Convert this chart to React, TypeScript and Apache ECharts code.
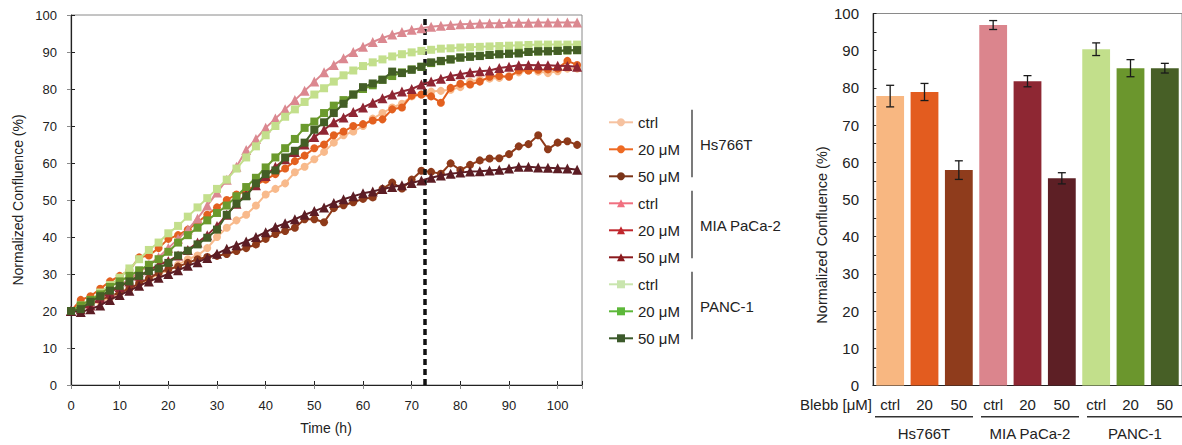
import React, { useEffect, useRef } from 'react';
import * as echarts from 'echarts';

const FONT = '"Liberation Sans", Arial, Helvetica, sans-serif';

// Time points (h)
const TIMES = [0, 2, 4, 6, 8, 10, 12, 14, 16, 18, 20, 22, 24, 26, 28, 30, 32, 34, 36, 38, 40, 42, 44, 46, 48, 50, 52, 54, 56, 58, 60, 62, 64, 66, 68, 70, 72, 74, 76, 78, 80, 82, 84, 86, 88, 90, 92, 94, 96, 98, 100, 102, 104];

const HS_CTRL = [20, 20.5, 22, 22.5, 23.5, 25, 26, 27.5, 28.5, 30, 31, 32.5, 34, 35, 37, 40, 42.5, 44.5, 46, 48.5, 51.5, 53, 54.5, 57.5, 59, 61, 63, 65.5, 67.5, 68.5, 70, 72, 73.5, 75, 76, 78, 78.5, 79.3, 79.5, 79.8, 80.5, 82, 82.5, 82.8, 83, 83.5, 84.5, 85, 84.7, 84.3, 84.8, 85.5, 85.5];
const HS_20 = [20, 23, 24, 26, 28, 29.5, 31, 34.5, 35, 37, 39.5, 40.5, 42, 44, 46, 48, 50, 51.5, 52.5, 54, 55.5, 57, 58.5, 60.5, 62, 64, 65, 67.5, 68.5, 70, 70.5, 71.5, 71.8, 74.5, 75, 78.2, 78.5, 78, 76.3, 80.3, 81.4, 81.2, 82, 83.3, 83.5, 83.3, 85, 85, 85.2, 85.3, 85.5, 87.6, 86.5];
const HS_50 = [20, 21, 22, 23, 24, 25, 26, 27.5, 28.8, 30.3, 31.3, 32, 33, 34, 34.6, 34.9, 35.4, 36.2, 37, 38, 39.5, 40.8, 41.6, 42.5, 44.8, 44.8, 44, 47.8, 48.6, 49.4, 50.3, 50.7, 53, 54.7, 53.1, 55.5, 57.9, 57.6, 57.1, 59.9, 58.1, 59.5, 60.7, 61.2, 61.3, 62.4, 64.5, 65.1, 67.5, 63.7, 65.5, 65.9, 64.9];
const MIA_CTRL = [20, 21, 22.5, 24, 25.5, 27, 28.5, 30.5, 32.5, 34.5, 37, 39.5, 42, 45, 48.5, 52, 55.5, 59, 63.5, 66.5, 69.5, 72, 74.5, 77, 79.5, 82, 84.5, 86.5, 88.3, 90, 91.4, 92.7, 93.8, 94.7, 95.4, 96, 96.4, 96.8, 97.1, 97.3, 97.5, 97.6, 97.7, 97.8, 97.8, 97.9, 97.9, 97.9, 98, 98, 98, 98, 98];
const MIA_20 = [20, 20.5, 21.5, 23.5, 25, 26.5, 28, 29.5, 31, 32.5, 33.5, 35, 36.5, 38.5, 40.5, 43, 46, 49, 51.5, 54, 56.5, 59, 61, 63, 65, 67, 69, 71, 72.3, 73.8, 75, 76.3, 77.5, 78.5, 79.3, 80, 81.2, 82, 82.8, 83.5, 84, 84.5, 84.8, 85, 85.7, 86, 86.4, 86.5, 86.4, 86.4, 86.3, 86.2, 86];
const MIA_50 = [20, 19.7, 20.5, 21.5, 23, 24.3, 25.5, 26.8, 28, 29, 30, 31, 32.2, 33.2, 34.3, 35.5, 36.8, 37.8, 38.8, 40, 41.3, 42.7, 43.7, 44.8, 46, 47, 48, 49.2, 50.2, 51, 51.8, 52.3, 53, 53.5, 54, 54.6, 55.3, 56, 56.6, 57.1, 57.4, 57.7, 57.8, 58, 58.2, 58.5, 59, 59, 58.8, 58.7, 58.6, 58.5, 58.2];
const PANC_CTRL = [20, 21.5, 23, 25, 27, 29, 31.5, 34, 36.5, 38.5, 41, 43, 45.5, 48, 50.5, 53, 55.5, 58.5, 61.5, 64.5, 67.5, 70, 72.5, 74.5, 76.5, 78.5, 80.2, 82, 83.7, 85, 86.2, 87.2, 88, 88.8, 89.4, 89.9, 90.3, 90.6, 90.9, 91, 91.2, 91.3, 91.4, 91.5, 91.6, 91.7, 91.8, 91.9, 92, 92, 92, 92, 92];
const PANC_20 = [20, 21.5, 23, 24.5, 26.5, 28, 29.5, 31, 32.5, 34, 36, 38.5, 40.5, 42.5, 44.5, 46.5, 48.5, 51, 53.5, 56, 58.8, 61.5, 64, 66.5, 69.5, 71.2, 73.5, 75.5, 77, 78.5, 80, 81, 82.5, 83.5, 84.5, 85.3, 86, 87, 87.5, 88, 88.5, 88.8, 89, 89.2, 89.4, 89.6, 89.8, 90, 90.1, 90.2, 90.3, 90.4, 90.5];
const PANC_50 = [20, 20.5, 22.5, 24, 25.5, 26.8, 28, 29.5, 30.8, 31.5, 33, 35, 36.3, 38, 39.8, 42, 46, 49, 51, 54.5, 57, 58, 61.5, 63.3, 65.5, 69, 71, 73.5, 76, 78.5, 80.5, 81.5, 82.5, 84.7, 84.3, 85.2, 86, 87.2, 87.6, 88, 88.5, 88.7, 88.9, 89.2, 89.4, 89.5, 89.6, 90, 90.2, 90.2, 90.3, 90.5, 90.5];

const TREATMENT_TIME = 72.6;

const CELL_LINES = ['Hs766T', 'MIA PaCa-2', 'PANC-1'];
const DOSES = ['ctrl', '20 μM', '50 μM'];

// Bar chart (right)
const BAR_CATS = ['ctrl', '20', '50', 'ctrl', '20', '50', 'ctrl', '20', '50'];
const BAR_MEANS = [77.8, 78.9, 57.9, 96.9, 81.8, 55.7, 90.4, 85.3, 85.3];
const BAR_ERRS = [2.9, 2.3, 2.5, 1.2, 1.5, 1.5, 1.7, 2.3, 1.3];

const LINE_COLORS = ['#F8BA8C', '#E3601F', '#8E3A1A', '#DB8890', '#8F2633', '#5C1D24', '#C3DF8C', '#6B9A2E', '#435E26'];
const LEGEND_COLORS = ['#F6C2A0', '#EE6A23', '#7B3418', '#F07080', '#C0272D', '#8B1A1E', '#C9E5AE', '#5DB83A', '#3C5A2B'];
const BAR_COLORS = ['#F8B781', '#E35C1F', '#8F3C1C', '#DB858D', '#8E2733', '#5D1F25', '#C2DF8B', '#6B962D', '#475F26'];

const SERIES_VALUES = [HS_CTRL, HS_20, HS_50, MIA_CTRL, MIA_20, MIA_50, PANC_CTRL, PANC_20, PANC_50];
const SYMBOLS = ['circle', 'triangle', 'rect'];
const SYMBOL_SIZES = [8, 10, 8];

function buildOption() {
  const names: string[] = [];
  CELL_LINES.forEach((c) => DOSES.forEach((d) => names.push(c + '|' + d)));

  const lineSeries: any[] = SERIES_VALUES.map((vals, i) => {
    const g = Math.floor(i / 3);
    return {
      type: 'line',
      name: names[i],
      xAxisIndex: 0,
      yAxisIndex: 0,
      data: TIMES.map((t, k) => [t, vals[k]]),
      symbol: SYMBOLS[g],
      symbolSize: SYMBOL_SIZES[g],
      showAllSymbol: true,
      lineStyle: { width: 2, color: LINE_COLORS[i] },
      itemStyle: { color: LINE_COLORS[i] },
      z: 2 + i,
    };
  });

  const markSeries = {
    type: 'line',
    name: 'treatment',
    xAxisIndex: 0,
    yAxisIndex: 0,
    data: [],
    z: 20,
    markLine: {
      silent: true,
      symbol: ['none', 'none'],
      label: { show: false },
      lineStyle: { color: '#111', width: 3.5, type: [6, 4] },
      data: [{ xAxis: TREATMENT_TIME }],
    },
  };

  const barSeries = {
    type: 'bar',
    xAxisIndex: 2,
    yAxisIndex: 2,
    barCategoryGap: '19%',
    data: BAR_MEANS.map((v, i) => ({ value: v, itemStyle: { color: BAR_COLORS[i] } })),
    z: 2,
  };

  const errSeries = {
    type: 'custom',
    xAxisIndex: 2,
    yAxisIndex: 2,
    z: 5,
    data: BAR_MEANS.map((m, i) => [i, m, BAR_ERRS[i]]),
    encode: { x: 0, y: 1 },
    renderItem: (params: any, api: any) => {
      const i = api.value(0);
      const m = api.value(1);
      const e = api.value(2);
      const top = api.coord([i, m + e]);
      const bot = api.coord([i, m - e]);
      const hw = 4;
      const style = { stroke: '#1a1a1a', lineWidth: 1.3 };
      return {
        type: 'group',
        children: [
          { type: 'line', shape: { x1: top[0], y1: top[1], x2: bot[0], y2: bot[1] }, style },
          { type: 'line', shape: { x1: top[0] - hw, y1: top[1], x2: top[0] + hw, y2: top[1] }, style },
          { type: 'line', shape: { x1: bot[0] - hw, y1: bot[1], x2: bot[0] + hw, y2: bot[1] }, style },
        ],
      };
    },
  };

  const dark = '#222';
  const grey = '#8a8a8a';
  const txt = { color: '#222', fontFamily: FONT };

  // Legend group brackets and labels
  const rowTop = 117.3;
  const rowStep = 27;
  const graphics: any[] = [];
  CELL_LINES.forEach((c, g) => {
    const r0 = rowTop + rowStep * (3 * g);
    const r2 = rowTop + rowStep * (3 * g + 2);
    graphics.push({
      type: 'line',
      shape: { x1: 692, y1: r0 - 7.5, x2: 692, y2: r2 + 6 },
      style: { stroke: '#333', lineWidth: 1.3 },
    });
    graphics.push({
      type: 'text',
      x: 700,
      y: rowTop + rowStep * (3 * g + 1),
      style: { text: c, fontSize: 15, fontFamily: FONT, fill: '#222', textAlign: 'left', textVerticalAlign: 'middle' },
    });
  });

  // Right chart group underlines + labels
  const groups = [
    { x1: 875, x2: 973 },
    { x1: 981, x2: 1079 },
    { x1: 1087, x2: 1186 },
  ];
  groups.forEach((gr, g) => {
    graphics.push({
      type: 'line',
      shape: { x1: gr.x1, y1: 416.7, x2: gr.x2, y2: 416.7 },
      style: { stroke: '#333', lineWidth: 1.5 },
    });
    graphics.push({
      type: 'text',
      x: g === 2 ? 1135 : (gr.x1 + gr.x2) / 2,
      y: 433,
      style: { text: CELL_LINES[g], fontSize: 15, fontFamily: FONT, fill: '#222', textAlign: 'center', textVerticalAlign: 'middle' },
    });
  });
  graphics.push({
    type: 'text',
    x: 872,
    y: 404,
    style: { text: 'Blebb [μM]', fontSize: 15, fontFamily: FONT, fill: '#222', textAlign: 'right', textVerticalAlign: 'middle' },
  });
  graphics.push({
    type: 'text',
    x: 822,
    y: 235,
    rotation: Math.PI / 2,
    style: { text: 'Normalized Confluence (%)', fontSize: 14.5, fontFamily: FONT, fill: '#222', textAlign: 'center', textVerticalAlign: 'middle' },
  });
  graphics.push({
    type: 'text',
    x: 18,
    y: 200,
    rotation: Math.PI / 2,
    style: { text: 'Normalized Confluence (%)', fontSize: 14, fontFamily: FONT, fill: '#222', textAlign: 'center', textVerticalAlign: 'middle' },
  });
  graphics.push({
    type: 'text',
    x: 326,
    y: 428,
    style: { text: 'Time (h)', fontSize: 14, fontFamily: FONT, fill: '#222', textAlign: 'center', textVerticalAlign: 'middle' },
  });

  return {
    animation: false,
    backgroundColor: '#fff',
    textStyle: { fontFamily: FONT },
    grid: [
      { left: 71, top: 15, width: 511, height: 370, show: true, borderColor: grey, borderWidth: 1, backgroundColor: 'transparent' },
      { left: 873, top: 13.5, width: 313, height: 372, show: true, borderColor: grey, borderWidth: 1, backgroundColor: 'transparent' },
    ],
    legend: {
      orient: 'vertical',
      left: 603,
      top: rowTop - 8,
      itemWidth: 24,
      itemHeight: 10,
      itemGap: 11,
      textStyle: { fontSize: 15, lineHeight: 16, color: '#222', fontFamily: FONT },
      formatter: (name: string) => name.split('|')[1],
      data: names.map((n, i) => ({
        name: n,
        itemStyle: { color: LEGEND_COLORS[i] },
        lineStyle: { color: LEGEND_COLORS[i], width: 2 },
      })),
    },
    xAxis: [
      {
        type: 'value',
        gridIndex: 0,
        min: 0,
        max: 105,
        interval: 10,
        splitLine: { show: false },
        axisLine: { show: true, lineStyle: { color: dark, width: 1.2 } },
        axisTick: { show: true, inside: true, length: 4, lineStyle: { color: dark } },
        axisLabel: { ...txt, fontSize: 13, margin: 14, formatter: (v: number) => (v % 10 === 0 ? String(v) : '') },
      },
      {
        type: 'value',
        gridIndex: 0,
        position: 'top',
        min: 0,
        max: 105,
        interval: 10,
        splitLine: { show: false },
        axisLine: { show: false },
        axisTick: { show: true, inside: true, length: 4, lineStyle: { color: grey } },
        axisLabel: { show: false },
      },
      {
        type: 'category',
        gridIndex: 1,
        data: BAR_CATS,
        axisLine: { show: true, lineStyle: { color: dark, width: 1.2 } },
        axisTick: { show: false },
        axisLabel: { ...txt, fontSize: 15, margin: 11, interval: 0 },
      },
    ],
    yAxis: [
      {
        type: 'value',
        gridIndex: 0,
        min: 0,
        max: 100,
        interval: 10,
        splitLine: { show: false },
        axisLine: { show: true, lineStyle: { color: dark, width: 1.2 } },
        axisTick: { show: true, inside: true, length: 4, lineStyle: { color: dark } },
        axisLabel: { ...txt, fontSize: 13, margin: 14 },
      },
      {
        type: 'value',
        gridIndex: 0,
        position: 'right',
        min: 0,
        max: 100,
        interval: 10,
        splitLine: { show: false },
        axisLine: { show: false },
        axisTick: { show: true, inside: true, length: 4, lineStyle: { color: grey } },
        axisLabel: { show: false },
      },
      {
        type: 'value',
        gridIndex: 1,
        min: 0,
        max: 100,
        interval: 10,
        splitLine: { show: false },
        axisLine: { show: true, lineStyle: { color: dark, width: 1.2 } },
        axisTick: { show: true, inside: true, length: 3.5, lineStyle: { color: dark } },
        minorTick: { show: true, splitNumber: 2, length: 3.5, lineStyle: { color: dark } },
        axisLabel: { ...txt, fontSize: 15, margin: 14 },
      },
    ],
    series: [...lineSeries, markSeries, barSeries, errSeries],
    graphic: graphics,
  };
}

export default function App() {
  const ref = useRef<HTMLDivElement>(null);
  useEffect(() => {
    if (!ref.current) return;
    const chart = echarts.init(ref.current, null, { renderer: 'svg' });
    chart.setOption(buildOption() as any);
    return () => chart.dispose();
  }, []);
  return (
    <div
      ref={ref}
      style={{ position: 'fixed', left: 0, top: 0, width: 1182, height: 445, background: '#fff' }}
    />
  );
}
